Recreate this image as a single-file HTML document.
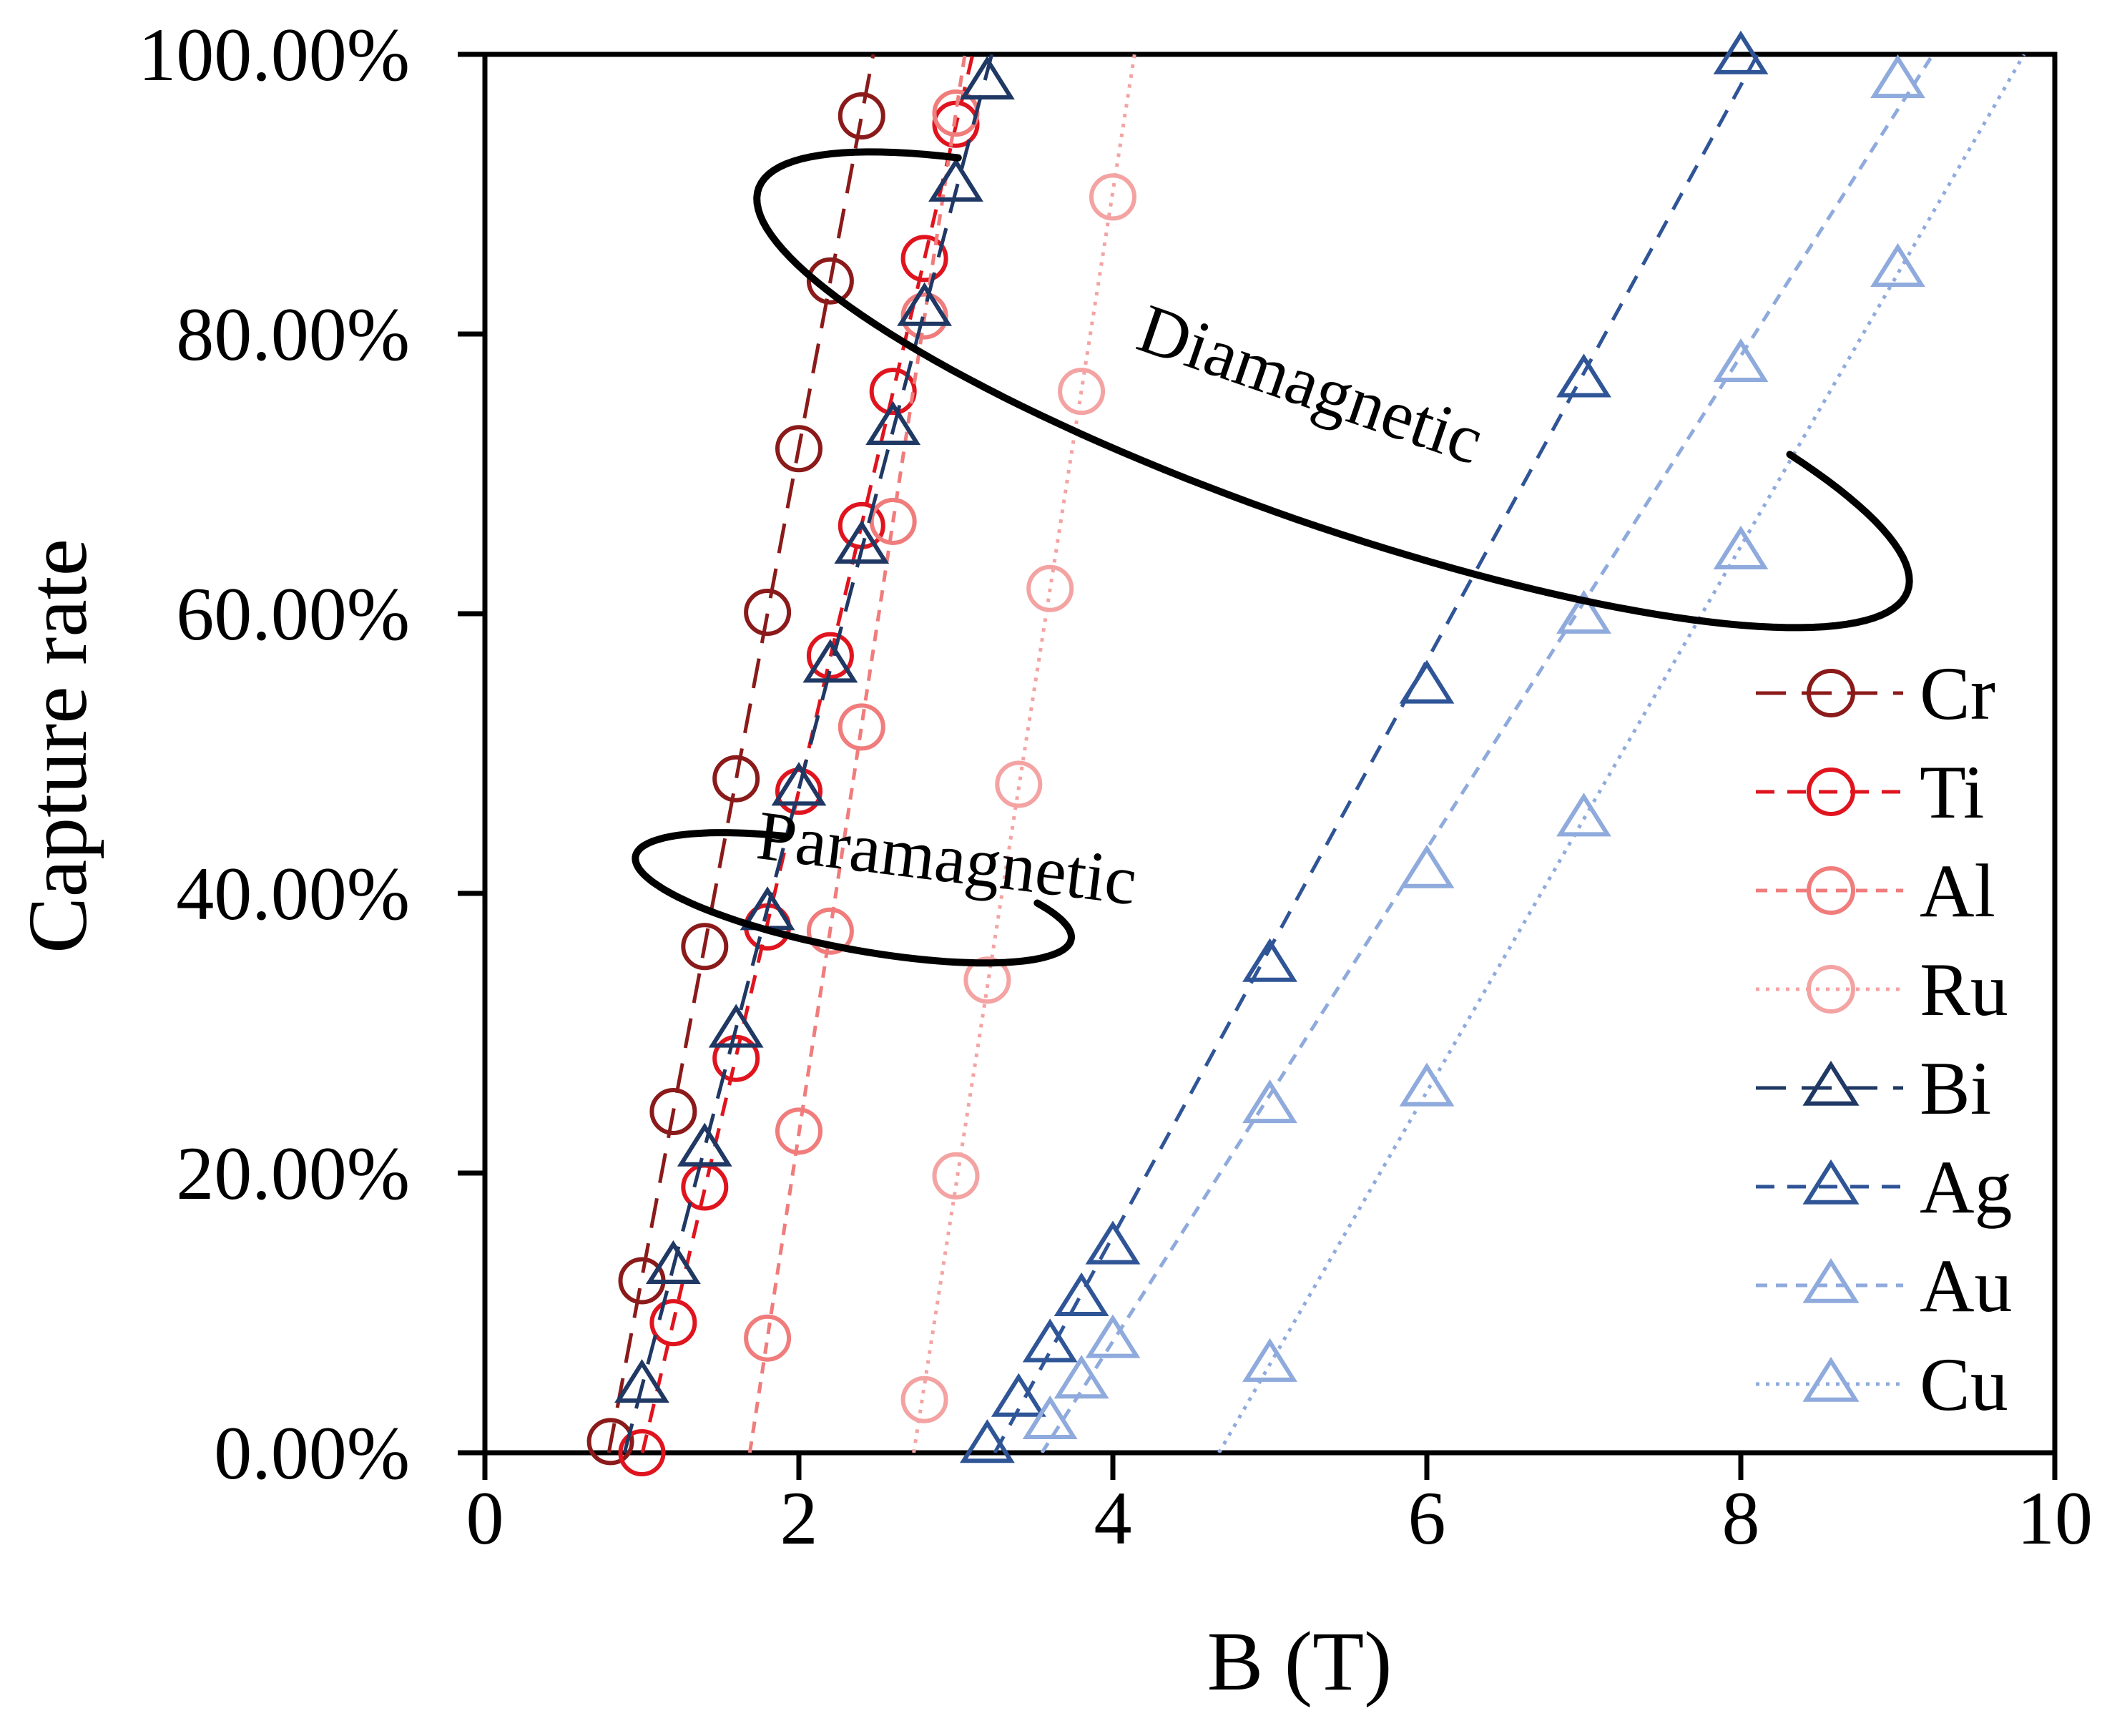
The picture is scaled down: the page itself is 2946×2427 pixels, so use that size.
<!DOCTYPE html>
<html><head><meta charset="utf-8">
<style>
html,body{margin:0;padding:0;background:#fff;}
svg{display:block;font-family:"Liberation Serif",serif;}
</style></head>
<body>
<svg id="chart" width="2946" height="2427" viewBox="0 0 2946 2427" xmlns="http://www.w3.org/2000/svg">
<g id="plot"></g>
</svg>
<script>
// ---- data ----
const seriesNames = ["Cr","Ti","Al","Ru","Bi","Ag","Au","Cu"];
const crX = [0.8,1.0,1.2,1.4,1.6,1.8,2.0,2.2,2.4];
const crY = [0.8,12.3,24.4,36.2,48.2,60.1,71.8,83.8,95.6];
const tiX = [1.0,1.2,1.4,1.6,1.8,2.0,2.2,2.4,2.6,2.8,3.0];
const tiY = [0,9.3,19,28.2,37.6,47.3,57,66.3,75.9,85.4,95];
const alX = [1.8,2.0,2.2,2.4,2.6,2.8,3.0];
const alY = [8.2,23,37.3,51.9,66.6,81.3,95.8];
const ruX = [2.8,3.0,3.2,3.4,3.6,3.8,4.0];
const ruY = [3.8,19.8,33.8,47.8,61.8,75.9,89.8];
const biX = [1.0,1.2,1.4,1.6,1.8,2.0,2.2,2.4,2.6,2.8,3.0,3.2];
const biY = [4.8,13.3,21.7,30.2,38.6,47.5,56.3,64.8,73.3,81.8,90.7,98];
const agX = [3.2,3.4,3.6,3.8,4.0,5.0,6.0,7.0,8.0];
const agY = [0.5,3.8,7.7,11,14.7,34.9,54.8,76.7,99.8];
const auX = [3.6,3.8,4.0,5.0,6.0,7.0,8.0,9.0];
const auY = [2.2,5.1,8,24.8,41.6,59.8,77.8,98.1];
const cuX = [5.0,6.0,7.0,8.0,9.0];
const cuY = [6.3,26,45.3,64.4,84.6];
const xTicks = [0,2,4,6,8,10];
const yTicks = [0,20,40,60,80,100];
const yTickLabels = ["0.00%","20.00%","40.00%","60.00%","80.00%","100.00%"];

// ---- axes ----
const X0=678, X1=2873, Y0=2031, Y1=76;
const sx = v => X0 + (v/10)*(X1-X0);
const sy = v => Y0 - (v/100)*(Y0-Y1);
const NS="http://www.w3.org/2000/svg";
const plot=document.getElementById('plot');
function mk(tag, attrs, parent){
  const e=document.createElementNS(NS,tag);
  for(const k in attrs) e.setAttribute(k, attrs[k]);
  (parent||plot).appendChild(e); return e;
}

const styles = [
 {x:crX,y:crY,c:"#8b1a1a",dash:"42 22",m:"circle"},
 {x:tiX,y:tiY,c:"#e0141e",dash:"26 18",m:"circle"},
 {x:alX,y:alY,c:"#f07c7c",dash:"16 12",m:"circle"},
 {x:ruX,y:ruY,c:"#f4a3a3",dash:"5 9",m:"circle"},
 {x:biX,y:biY,c:"#1f3864",dash:"42 22",m:"tri"},
 {x:agX,y:agY,c:"#2f5597",dash:"26 18",m:"tri"},
 {x:auX,y:auY,c:"#8faadc",dash:"16 12",m:"tri"},
 {x:cuX,y:cuY,c:"#8faadc",dash:"5 9",m:"tri"}
];

// frame
const frame=mk('rect',{x:X0,y:Y1,width:X1-X0,height:Y0-Y1,fill:'none',stroke:'#000','stroke-width':7});



// ticks
yTicks.forEach((t,i)=>{
  const l=mk('line',{x1:X0-38,x2:X0,y1:sy(t),y2:sy(t),stroke:'#000','stroke-width':7});
  
  
  const tx=mk('text',{x:573,y:sy(t)+36,'text-anchor':'end','font-size':106,fill:'#000'});
  tx.textContent=yTickLabels[i];
  
  
});
xTicks.forEach(t=>{
  const l=mk('line',{x1:sx(t),x2:sx(t),y1:Y0,y2:Y0+38,stroke:'#000','stroke-width':7});
  
  
  const tx=mk('text',{x:sx(t),y:2158,'text-anchor':'middle','font-size':106,fill:'#000'});
  tx.textContent=String(t);
  
  
});
const xt=mk('text',{x:1817,y:2362,'text-anchor':'middle','font-size':118,fill:'#000'});
xt.textContent="B (T)";


const yt=mk('text',{x:0,y:0,'text-anchor':'middle','font-size':118,fill:'#000',transform:'translate(120,1043) rotate(-90)'});
yt.textContent="Capture rate";



// clip
const defs=mk('defs',{});
const cp=mk('clipPath',{id:'clip'},defs);
mk('rect',{x:X0,y:Y1,width:X1-X0,height:Y0-Y1},cp);

function marker(type,cx,cy,c,r,parent){
  if(type==='circle') return mk('circle',{cx:cx,cy:cy,r:r,fill:'none',stroke:c,'stroke-width':6},parent);
  const h=r*1.75, w=r*1.1;
  return mk('polygon',{points:`${cx},${cy-h*0.6} ${cx-w},${cy+h*0.4} ${cx+w},${cy+h*0.4}`,fill:'none',stroke:c,'stroke-width':6,'stroke-linejoin':'miter'},parent);
}

styles.forEach((s,i)=>{
  const g=mk('g',{});
  
  
  const n=s.x.length; let mx=0,my=0; s.x.forEach((v,k)=>{mx+=v;my+=s.y[k];}); mx/=n; my/=n;
  let num=0,den=0; s.x.forEach((v,k)=>{num+=(v-mx)*(s.y[k]-my);den+=(v-mx)*(v-mx);});
  const b=num/den, a=my-b*mx;
  const xa=(0-a)/b, xb=(100-a)/b;
  const tl=mk('line',{x1:sx(xa),y1:sy(0),x2:sx(xb),y2:sy(100),stroke:s.c,'stroke-width':5,'stroke-dasharray':s.dash,'clip-path':'url(#clip)'},g);
  
  
  s.x.forEach((v,k)=>{
    const m=marker(s.m,sx(v),sy(s.y[k]),s.c,30,g);
    
    
  });
  const ly=969+i*138;
  const lg=mk('g',{});
  
  
  mk('line',{x1:2455,x2:2661,y1:ly,y2:ly,stroke:s.c,'stroke-width':5,'stroke-dasharray':s.dash},lg);
  marker(s.m,2560,ly,s.c,31,lg);
  const lt=mk('text',{x:2684,y:ly+36,'font-size':106,fill:'#000'},lg);
  lt.textContent=seriesNames[i];
});

function arc(cx,cy,a,b,angDeg,t0,t1,name){
  const r=angDeg*Math.PI/180, S=1.879; let d="";
  for(let k=0;k<=120;k++){
    const t=(t0+(t1-t0)*k/120)*Math.PI/180;
    const lx=a*Math.cos(t), ly=b*Math.sin(t);
    const x=(cx+lx*Math.cos(r)-ly*Math.sin(r))*S, y=(cy+lx*Math.sin(r)+ly*Math.cos(r))*S;
    d+=(k?"L":"M")+x.toFixed(1)+","+y.toFixed(1);
  }
  const p=mk('path',{d:d,fill:'none',stroke:'#000','stroke-width':10,'stroke-linecap':'round'});
  
  
}
arc(992,290,453,100,19.3,225,-42,'diamagnetic-ellipse');
arc(635,668,165,38,10.8,250,-35,'paramagnetic-ellipse');

const dt=mk('text',{x:0,y:0,'text-anchor':'middle','font-size':98,fill:'#000',transform:'translate(1822,568) rotate(19)'});
dt.textContent="Diamagnetic";


const pt=mk('text',{x:0,y:0,'text-anchor':'middle','font-size':98,fill:'#000',transform:'translate(1320,1232) rotate(7)'});
pt.textContent="Paramagnetic";


</script>
</body></html>
